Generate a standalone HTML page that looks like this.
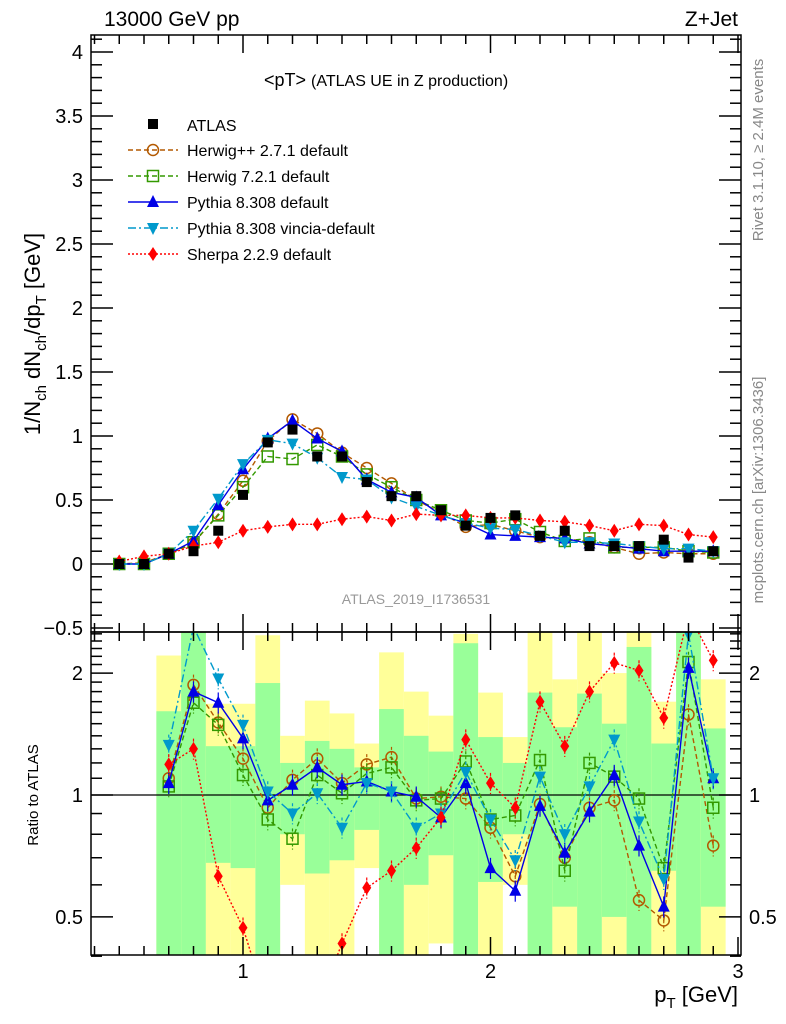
<!DOCTYPE html>
<html><head><meta charset="utf-8"><style>
body{margin:0;background:#fff;}
svg{display:block;font-family:"Liberation Sans",sans-serif;}
</style></head><body>
<svg id="c" width="786" height="1024" viewBox="0 0 786 1024"></svg>
<script>
const xs=[0.5,0.6,0.7,0.8,0.9,1.0,1.1,1.2,1.3,1.4,1.5,1.6,1.7,1.8,1.9,2.0,2.1,2.2,2.3,2.4,2.5,2.6,2.7,2.8,2.9];
const atlas=[0.0,0.0,0.08,0.10,0.26,0.54,0.95,1.05,0.84,0.84,0.64,0.53,0.53,0.42,0.30,0.36,0.38,0.22,0.26,0.14,0.14,0.14,0.19,0.05,0.10];
const herwigpp=[0.0,0.01,0.08,0.16,0.39,0.65,0.96,1.13,1.02,0.87,0.75,0.63,0.50,0.40,0.29,0.31,0.26,0.21,0.20,0.17,0.13,0.08,0.09,0.08,0.08];
const herwig7=[0.0,0.0,0.08,0.17,0.38,0.60,0.84,0.82,0.93,0.84,0.70,0.60,0.50,0.42,0.34,0.32,0.35,0.25,0.18,0.20,0.13,0.13,0.13,0.10,0.09];
const pythia=[0.0,0.0,0.08,0.18,0.46,0.74,0.98,1.12,0.98,0.88,0.66,0.56,0.52,0.38,0.32,0.23,0.22,0.21,0.20,0.16,0.14,0.12,0.10,0.10,0.10];
const vincia=[0.0,0.0,0.08,0.26,0.51,0.78,0.97,0.94,0.83,0.68,0.66,0.52,0.45,0.38,0.32,0.28,0.27,0.22,0.17,0.17,0.16,0.14,0.12,0.12,0.10];
const sherpa=[0.02,0.06,0.08,0.14,0.17,0.26,0.29,0.31,0.31,0.35,0.37,0.34,0.39,0.38,0.38,0.36,0.36,0.34,0.33,0.30,0.26,0.31,0.30,0.23,0.21];
const rx=[0.7,0.8,0.9,1.0,1.1,1.2,1.3,1.4,1.5,1.6,1.7,1.8,1.9,2.0,2.1,2.2,2.3,2.4,2.5,2.6,2.7,2.8,2.9];
const rHerwigpp=[1.10,1.87,1.51,1.23,0.93,1.09,1.23,1.07,1.19,1.24,0.98,0.99,0.98,0.83,0.63,0.95,0.70,0.93,0.97,0.55,0.49,1.58,0.75];
const rHerwig7=[1.05,1.69,1.49,1.12,0.87,0.78,1.12,1.01,1.13,1.17,0.97,0.98,1.21,0.87,0.89,1.22,0.65,1.20,1.11,0.98,0.66,2.13,0.93];
const rPythia=[1.07,1.80,1.69,1.38,0.97,1.06,1.17,1.06,1.08,1.02,0.99,0.88,1.07,0.66,0.58,0.94,0.72,0.91,1.12,0.75,0.53,2.06,1.10];
const rVincia=[1.33,2.6,1.94,1.49,1.02,0.90,1.01,0.83,1.07,1.02,0.83,0.90,1.14,0.87,0.69,1.11,0.80,1.05,1.37,0.86,0.62,2.5,1.10];
const rSherpa=[1.19,1.30,0.63,0.47,0.3,0.3,0.3,0.43,0.59,0.65,0.74,0.88,1.37,1.07,0.93,1.70,1.32,1.80,2.12,2.03,1.55,2.8,2.15];
const bandYUp=[2.21,3,1.68,1.68,2.48,1.40,1.71,1.59,1.34,2.25,1.80,1.57,2.5,1.79,1.39,3,1.93,3,2.0,3,1.70,3,1.93];
const bandGUp=[1.61,3,1.32,1.32,1.89,1.20,1.36,1.30,1.17,1.63,1.40,1.28,2.37,1.39,1.20,1.79,1.47,1.78,1.50,2.32,1.34,3,1.46];
const bandGDn=[0.3,0.3,0.68,0.66,0.3,0.80,0.64,0.69,0.82,0.3,0.60,0.71,0.3,0.61,0.80,0.3,0.53,0.3,0.50,0.3,0.65,0.3,0.53];
const bandYDn=[0.3,0.3,0.3,0.3,0.3,0.60,0.3,0.3,0.66,0.3,0.3,0.43,0.3,0.3,0.60,0.3,0.3,0.3,0.3,0.3,0.3,0.3,0.3];

const NS="http://www.w3.org/2000/svg";
const svg=document.getElementById('c');
const L=91,R=741,T=35,M=632,B=955;
const X=v=>243+(v-1)*247.5;
const Y=v=>564-128*v;
const YR=v=>795-405*Math.log10(v);
function el(tag,at,parent){const e=document.createElementNS(NS,tag);for(const k in at)e.setAttribute(k,at[k]);(parent||svg).appendChild(e);return e;}
function txt(s,at,parent){const e=el('text',at,parent);e.textContent=s;return e;}
const defs=el('defs',{});
const cp1=el('clipPath',{id:'cm'},defs);el('rect',{x:L,y:T,width:R-L,height:M-T},cp1);
const cp2=el('clipPath',{id:'cr'},defs);el('rect',{x:L,y:M,width:R-L,height:B-M},cp2);

// bands
const gB=el('g',{'clip-path':'url(#cr)'});


rx.forEach((v,i)=>{
  const x0=X(v-0.05),w=X(v+0.05)-x0;
  const y1=el('rect',{x:x0,y:YR(bandYUp[i]),width:w,height:YR(bandYDn[i])-YR(bandYUp[i]),fill:'#ffff99'},gB);
  
  
  const g1=el('rect',{x:x0,y:YR(bandGUp[i]),width:w,height:YR(bandGDn[i])-YR(bandGUp[i]),fill:'#99ff99'},gB);
  
  
});
const ref=el('line',{x1:L,x2:R,y1:YR(1),y2:YR(1),stroke:'#000','stroke-width':1.2});



function marker(kind,x,y,color,g){
  let m;
  if(kind==='sq')m=el('rect',{x:x-5,y:y-5,width:10,height:10,fill:'#000'},g);
  else if(kind==='osq')m=el('rect',{x:x-5.5,y:y-5.5,width:11,height:11,fill:'none',stroke:color,'stroke-width':1.5},g);
  else if(kind==='oc')m=el('circle',{cx:x,cy:y,r:5.5,fill:'none',stroke:color,'stroke-width':1.5},g);
  else if(kind==='tu')m=el('polygon',{points:`${x},${y-7} ${x-6},${y+5} ${x+6},${y+5}`,fill:color},g);
  else if(kind==='td')m=el('polygon',{points:`${x},${y+7} ${x-6},${y-5} ${x+6},${y-5}`,fill:color},g);
  else if(kind==='di')m=el('polygon',{points:`${x},${y-7} ${x-4.5},${y} ${x},${y+7} ${x+4.5},${y}`,fill:color},g);
  
  
}
const series=[
 {n:'herwigpp',main:herwigpp,ratio:rHerwigpp,c:'#b35900',dash:'5,3',m:'oc'},
 {n:'herwig7',main:herwig7,ratio:rHerwig7,c:'#339900',dash:'5,3',m:'osq'},
 {n:'pythia',main:pythia,ratio:rPythia,c:'#0000e6',dash:'',m:'tu'},
 {n:'vincia',main:vincia,ratio:rVincia,c:'#0099cc',dash:'8,3,2,3',m:'td'},
 {n:'sherpa',main:sherpa,ratio:rSherpa,c:'#ff0000',dash:'2,2',m:'di'}
];
const gM=el('g',{'clip-path':'url(#cm)'});


const gR=el('g',{'clip-path':'url(#cr)'});


series.forEach(s=>{
  const g=el('g',{},gM);
  
  
  const p=el('polyline',{points:xs.map((v,i)=>X(v)+','+Y(s.main[i])).join(' '),fill:'none',stroke:s.c,'stroke-width':1.4,'stroke-dasharray':s.dash},g);
  
  
  xs.forEach((v,i)=>marker(s.m,X(v),Y(s.main[i]),s.c,g));
  const g2=el('g',{},gR);
  
  
  const p2=el('polyline',{points:rx.map((v,i)=>X(v)+','+YR(s.ratio[i])).join(' '),fill:'none',stroke:s.c,'stroke-width':1.4,'stroke-dasharray':s.dash},g2);
  
  
  rx.forEach((v,i)=>{
    const y=YR(s.ratio[i]);
    el('line',{x1:X(v),x2:X(v),y1:YR(s.ratio[i]*1.06),y2:YR(s.ratio[i]*0.94),stroke:s.c,'stroke-width':1.2,'stroke-dasharray':s.dash?'3,2':''},g2);
    marker(s.m,X(v),y,s.c,g2);
  });
});
const gA=el('g',{'clip-path':'url(#cm)'});


xs.forEach((v,i)=>marker('sq',X(v),Y(atlas[i]),'#000',gA));

// frames & ticks
const gAx=el('g',{stroke:'#000','stroke-width':1.5,fill:'none'});


el('rect',{x:L,y:T,width:R-L,height:M-T},gAx);
el('rect',{x:L,y:M,width:R-L,height:B-M},gAx);
for(let k=4;k<=30;k++){const v=k/10,x=X(v);if(x<L||x>R)continue;const len=(k%10===0)?18:9;
  [[T,1],[M,-1],[M,1],[B,-1]].forEach(([y0,d])=>el('line',{x1:x,x2:x,y1:y0,y2:y0+d*len},gAx));}
for(let k=-5;k<=41;k++){const v=k/10,y=Y(v);if(y<T||y>M)continue;const len=(k%5===0)?22:11;
  el('line',{x1:L,x2:L+len,y1:y,y2:y},gAx);el('line',{x1:R,x2:R-len,y1:y,y2:y},gAx);}
[0.4,0.5,0.6,0.7,0.8,0.9,1,1.1,1.2,1.3,1.4,1.5,1.6,1.7,1.8,1.9,2,2.1,2.2,2.3,2.4,2.5].forEach(v=>{
  const y=YR(v);const len=(v===0.5||v===1||v===2)?22:11;
  el('line',{x1:L,x2:L+len,y1:y,y2:y},gAx);el('line',{x1:R,x2:R-len,y1:y,y2:y},gAx);});

// tick labels
const ticksMain=['-0.5','0','0.5','1','1.5','2','2.5','3','3.5','4'];
ticksMain.forEach(t=>{const e=txt(t.replace('-','\u2212'),{x:83,y:Y(parseFloat(t))+7,'font-size':20,'text-anchor':'end'});
  });
const ticksRatio=['0.5','1','2'];
ticksRatio.forEach(t=>{const y=YR(parseFloat(t))+7;
  let e=txt(t,{x:83,y:y,'font-size':20,'text-anchor':'end'});
  e=txt(t,{x:749,y:y,'font-size':20});});
const ticksX=['1','2','3'];
ticksX.forEach(t=>{const e=txt(t,{x:X(parseFloat(t)),y:978,'font-size':20,'text-anchor':'middle'});
  });

let e;
e=txt('13000 GeV pp',{x:104,y:26,'font-size':21});
e=txt('Z+Jet',{x:738,y:26,'font-size':21,'text-anchor':'end'});
e=el('text',{x:264,y:86,'font-size':18});
e.innerHTML='&lt;pT&gt; <tspan font-size="16">(ATLAS UE in Z production)</tspan>';
e=el('text',{transform:'translate(40,334) rotate(-90)','font-size':22,'text-anchor':'middle'});
e.innerHTML='1/N<tspan font-size="15" dy="6">ch</tspan><tspan dy="-6"> dN</tspan><tspan font-size="15" dy="6">ch</tspan><tspan dy="-6">/dp</tspan><tspan font-size="15" dy="6">T</tspan><tspan dy="-6"> [GeV]</tspan>';
e=txt('Ratio to ATLAS',{transform:'translate(38,795) rotate(-90)','font-size':15,'text-anchor':'middle'});
e=el('text',{x:738,y:1002,'font-size':22,'text-anchor':'end'});
e.innerHTML='p<tspan font-size="15" dy="6">T</tspan><tspan dy="-6"> [GeV]</tspan>';
e=txt('ATLAS_2019_I1736531',{x:416,y:604,'font-size':14,fill:'#999','text-anchor':'middle'});
e=txt('Rivet 3.1.10, \u2265 2.4M events',{transform:'translate(763,150) rotate(-90)','font-size':15,fill:'#888','text-anchor':'middle'});
e=txt('mcplots.cern.ch [arXiv:1306.3436]',{transform:'translate(763,490) rotate(-90)','font-size':15,fill:'#888','text-anchor':'middle'});

// legend
const leg=el('g',{});


const names=['Herwig++ 2.7.1 default','Herwig 7.2.1 default','Pythia 8.308 default','Pythia 8.308 vincia-default','Sherpa 2.2.9 default'];
const ent0=el('g',{},leg);
marker('sq',153,124,'#000',ent0);txt('ATLAS',{x:187,y:131,'font-size':16},ent0);
series.forEach((s,i)=>{const y=150+i*26;
  const g=el('g',{},leg);
  el('line',{x1:128,x2:178,y1:y,y2:y,stroke:s.c,'stroke-width':1.4,'stroke-dasharray':s.dash},g);
  marker(s.m,153,y,s.c,g);txt(names[i],{x:187,y:y+6,'font-size':16},g);});
</script>
</body></html>
